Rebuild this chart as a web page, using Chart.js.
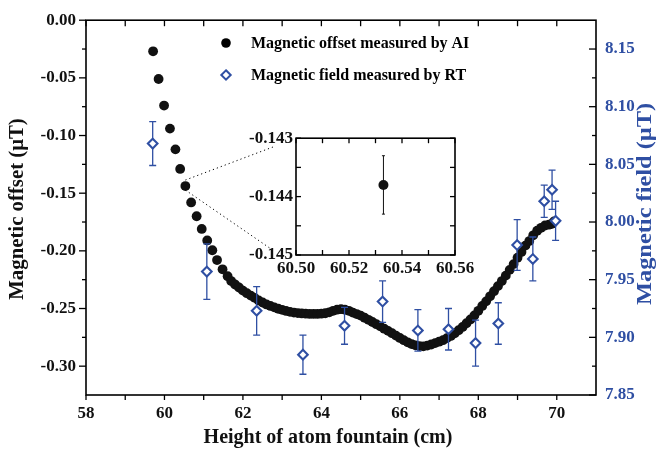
<!DOCTYPE html>
<html>
<head>
<meta charset="utf-8">
<script src="https://cdn.jsdelivr.net/npm/chart.js@4.4.0/dist/chart.umd.min.js"></script>
<style>
  html, body { margin: 0; padding: 0; background: #fff; }
  #wrap { position: relative; width: 661px; height: 454px; }
  #main { position: absolute; left: 0; top: 0; }
  #inset { position: absolute; left: 230px; top: 125px; }
</style>
</head>
<body>
<div id="wrap">
  <canvas id="main" width="661" height="454"></canvas>
  <canvas id="inset" width="260" height="155"></canvas>
</div>
<script>
// magnetic offset measured by the atom interferometer (left axis, uT)
const aiHeight = [59.71, 59.85, 59.99, 60.14, 60.28, 60.40, 60.533, 60.68, 60.82, 60.95,
  61.09, 61.22, 61.34, 61.48, 61.61, 61.70, 61.80, 61.90, 62.00, 62.10,
  62.20, 62.30, 62.40, 62.50, 62.60, 62.70, 62.80, 62.90, 63.00, 63.10,
  63.20, 63.30, 63.40, 63.50, 63.60, 63.70, 63.80, 63.90, 64.00, 64.10,
  64.20, 64.30, 64.40, 64.50, 64.60, 64.70, 64.80, 64.90, 65.00, 65.10,
  65.20, 65.30, 65.40, 65.50, 65.60, 65.70, 65.80, 65.90, 66.00, 66.10,
  66.20, 66.30, 66.40, 66.50, 66.60, 66.70, 66.80, 66.90, 67.00, 67.10,
  67.20, 67.30, 67.40, 67.50, 67.60, 67.70, 67.80, 67.90, 68.00, 68.10,
  68.20, 68.30, 68.40, 68.50, 68.60, 68.70, 68.80, 68.90, 69.00, 69.10,
  69.20, 69.30, 69.40, 69.50, 69.60, 69.70, 69.80, 69.88, 69.93];
const aiOffset = [-0.027, -0.051, -0.074, -0.094, -0.112, -0.129, -0.1438, -0.158, -0.170, -0.181,
  -0.191, -0.1995, -0.208, -0.216, -0.222, -0.2262, -0.2292, -0.2318, -0.2345, -0.2367,
  -0.2388, -0.2408, -0.2430, -0.2448, -0.2465, -0.2478, -0.2490, -0.2502, -0.2512, -0.2521,
  -0.2529, -0.2535, -0.2540, -0.2543, -0.2545, -0.2547, -0.2547, -0.2547, -0.2545, -0.2541,
  -0.2533, -0.2520, -0.2510, -0.2506, -0.2510, -0.2520, -0.2535, -0.2548, -0.2562, -0.2580,
  -0.2598, -0.2617, -0.2636, -0.2655, -0.2675, -0.2694, -0.2714, -0.2735, -0.2755, -0.2775,
  -0.2793, -0.2808, -0.2819, -0.2826, -0.2828, -0.2822, -0.2812, -0.2800, -0.2788, -0.2775,
  -0.2757, -0.2738, -0.2715, -0.2688, -0.2660, -0.2628, -0.2595, -0.2560, -0.2520, -0.2478,
  -0.2438, -0.2394, -0.2350, -0.2306, -0.2262, -0.2215, -0.2165, -0.2115, -0.2060, -0.2010,
  -0.1955, -0.1915, -0.1865, -0.1825, -0.1800, -0.1780, -0.1773, -0.1765, -0.1745];

// magnetic field measured by RT (right axis, uT) with error bars
const rtHeight = [59.70, 61.08, 62.35, 63.53, 64.59, 65.56, 66.46, 67.24, 67.93, 68.51, 68.99, 69.39, 69.68, 69.88, 69.97];
const rtField = [8.068, 7.957, 7.923, 7.885, 7.910, 7.931, 7.906, 7.907, 7.895, 7.912, 7.980, 7.968, 8.018, 8.028, 8.001];
const rtError = [0.019, 0.024, 0.021, 0.017, 0.016, 0.018, 0.018, 0.018, 0.020, 0.018, 0.022, 0.019, 0.014, 0.017, 0.017];

// zoomed point in the inset
const insetHeight = [60.533];
const insetOffset = [-0.1438];
const insetError = [0.0005];

// tick values
const xTicks = [58, 60, 62, 64, 66, 68, 70];
const xMinor = [59, 61, 63, 65, 67, 69];
const leftTicks = [0, -0.05, -0.10, -0.15, -0.20, -0.25, -0.30];
const leftMinor = [-0.025, -0.075, -0.125, -0.175, -0.225, -0.275];
const rightTicks = [7.85, 7.90, 7.95, 8.00, 8.05, 8.10, 8.15];
const rightMinor = [7.875, 7.925, 7.975, 8.025, 8.075, 8.125];
const insetXTicks = [60.50, 60.52, 60.54, 60.56];
const insetXMinor = [60.51, 60.53, 60.55];
const insetYTicks = [-0.143, -0.144, -0.145];
const insetYMinor = [-0.1435, -0.1445];

const blue = '#2F4FA3';
const serif = 'Liberation Serif, Times New Roman, serif';

function setTicks(values) {
  return function (scale) {
    scale.ticks = values.map(v => ({ value: v }));
  };
}

// frame box + tick marks (in = into the plot, out = away from it)
function framePlugin(marks) {
  return {
    id: 'frame',
    afterDraw(chart) {
      const ctx = chart.ctx;
      const a = chart.chartArea;
      ctx.save();
      ctx.strokeStyle = '#000';
      ctx.lineWidth = 1.6;
      ctx.strokeRect(a.left, a.top, a.right - a.left, a.bottom - a.top);
      ctx.lineWidth = 1.3;
      marks.forEach(m => {
        const s = chart.scales[m.axis];
        m.values.forEach(v => {
          const p = s.getPixelForValue(v);
          ctx.beginPath();
          if (m.side === 'left') { ctx.moveTo(a.left - m.out, p); ctx.lineTo(a.left + m.in, p); }
          if (m.side === 'right') { ctx.moveTo(a.right - m.in, p); ctx.lineTo(a.right + m.out, p); }
          if (m.side === 'bottom') { ctx.moveTo(p, a.bottom - m.in); ctx.lineTo(p, a.bottom + m.out); }
          if (m.side === 'top') { ctx.moveTo(p, a.top - m.out); ctx.lineTo(p, a.top + m.in); }
          ctx.stroke();
        });
      });
      ctx.restore();
    }
  };
}

function errorBarPlugin(dsIndex, yAxis, xs, ys, errs, color, width, cap) {
  return {
    id: 'errorBars',
    beforeDatasetDraw(chart, args) {
      if (args.index !== dsIndex) return;
      const ctx = chart.ctx;
      const sx = chart.scales.x, sy = chart.scales[yAxis];
      ctx.save();
      ctx.strokeStyle = color;
      ctx.lineWidth = width;
      xs.forEach((x, i) => {
        const px = sx.getPixelForValue(x);
        const top = sy.getPixelForValue(ys[i] + errs[i]);
        const bot = sy.getPixelForValue(ys[i] - errs[i]);
        ctx.beginPath();
        ctx.moveTo(px, top); ctx.lineTo(px, bot);
        ctx.moveTo(px - cap, top); ctx.lineTo(px + cap, top);
        ctx.moveTo(px - cap, bot); ctx.lineTo(px + cap, bot);
        ctx.stroke();
      });
      ctx.restore();
    }
  };
}

function rotatedText(ctx, text, x, y, color, stretch) {
  ctx.save();
  ctx.translate(x, y);
  ctx.rotate(-Math.PI / 2);
  ctx.scale(stretch, 1);
  ctx.fillStyle = color;
  ctx.textAlign = 'center';
  ctx.textBaseline = 'middle';
  ctx.fillText(text, 0, 0);
  ctx.restore();
}

// axis titles, legend inside the plot, dotted guide lines to the inset
const extrasPlugin = {
  id: 'extras',
  afterDraw(chart) {
    const ctx = chart.ctx;
    ctx.save();
    ctx.font = 'bold 20px ' + serif;
    rotatedText(ctx, 'Magnetic offset (\u03bcT)', 18, 209, '#111', 1.04);
    rotatedText(ctx, 'Magnetic field (\u03bcT)', 646, 204, blue, 1.22);
    ctx.fillStyle = '#111';
    ctx.textAlign = 'center';
    ctx.textBaseline = 'middle';
    ctx.fillText('Height of atom fountain (cm)', 328, 438);

    ctx.fillStyle = '#000';
    ctx.beginPath();
    ctx.arc(226, 43, 4.8, 0, Math.PI * 2);
    ctx.fill();
    ctx.strokeStyle = blue;
    ctx.fillStyle = '#fff';
    ctx.lineWidth = 2;
    ctx.beginPath();
    ctx.moveTo(226, 70.3); ctx.lineTo(230.7, 75); ctx.lineTo(226, 79.7); ctx.lineTo(221.3, 75);
    ctx.closePath();
    ctx.fill(); ctx.stroke();
    ctx.fillStyle = '#000';
    ctx.font = 'bold 16px ' + serif;
    ctx.textAlign = 'left';
    ctx.fillText('Magnetic offset measured by AI', 251, 44);
    ctx.fillText('Magnetic field measured by RT', 251, 76);

    const px = chart.scales.x.getPixelForValue(insetHeight[0]);
    const py = chart.scales.y.getPixelForValue(insetOffset[0]);
    ctx.strokeStyle = '#000';
    ctx.lineWidth = 1;
    ctx.setLineDash([1.2, 3]);
    ctx.beginPath();
    ctx.moveTo(px, py - 6); ctx.lineTo(273, 147);
    ctx.moveTo(px, py + 4); ctx.lineTo(274, 251);
    ctx.stroke();
    ctx.restore();
  }
};

const tickFont = { family: serif, size: 17, weight: 'bold' };

new Chart(document.getElementById('main'), {
  type: 'scatter',
  data: {
    datasets: [
      {
        label: 'Magnetic offset measured by AI',
        data: aiHeight.map((x, i) => ({ x: x, y: aiOffset[i] })),
        yAxisID: 'y',
        pointRadius: 4.9,
        pointBackgroundColor: '#111',
        pointBorderWidth: 0,
        order: 2
      },
      {
        label: 'Magnetic field measured by RT',
        data: rtHeight.map((x, i) => ({ x: x, y: rtField[i] })),
        yAxisID: 'y2',
        pointStyle: 'rectRot',
        pointRadius: 4.8,
        pointBackgroundColor: '#fff',
        pointBorderColor: blue,
        pointBorderWidth: 2.1,
        order: 1
      }
    ]
  },
  options: {
    responsive: false,
    animation: false,
    events: [],
    layout: { padding: { top: 16, left: 0, right: 0, bottom: 0 } },
    plugins: { legend: { display: false }, tooltip: { enabled: false } },
    scales: {
      x: {
        type: 'linear', min: 58, max: 71,
        afterBuildTicks: setTicks(xTicks),
        afterFit: s => { s.height = 59; },
        grid: { display: false, drawTicks: false },
        border: { display: false },
        ticks: { font: tickFont, color: '#111', padding: 8, autoSkip: false, maxRotation: 0, callback: v => String(v) }
      },
      y: {
        type: 'linear', position: 'left', min: -0.325, max: 0,
        afterBuildTicks: setTicks(leftTicks),
        afterFit: s => { s.width = 86; },
        grid: { display: false, drawTicks: false },
        border: { display: false },
        ticks: { font: tickFont, color: '#111', padding: 10, autoSkip: false, callback: v => v.toFixed(2) }
      },
      y2: {
        type: 'linear', position: 'right', min: 7.85, max: 8.175,
        afterBuildTicks: setTicks(rightTicks),
        afterFit: s => { s.width = 65; },
        grid: { display: false, drawTicks: false },
        border: { display: false },
        ticks: { font: tickFont, color: blue, padding: 9, autoSkip: false, callback: v => v.toFixed(2) }
      }
    }
  },
  plugins: [
    framePlugin([
      { axis: 'y', values: leftTicks, side: 'left', out: 7, in: 0 },
      { axis: 'y', values: leftMinor, side: 'left', out: 4, in: 0 },
      { axis: 'y2', values: rightTicks, side: 'right', out: 0, in: 7 },
      { axis: 'y2', values: rightMinor, side: 'right', out: 0, in: 4 },
      { axis: 'x', values: xTicks.concat(xMinor), side: 'bottom', out: 5, in: 0 },
      { axis: 'x', values: xTicks.concat(xMinor), side: 'top', out: 0, in: 6 }
    ]),
    errorBarPlugin(1, 'y2', rtHeight, rtField, rtError, blue, 1.3, 3.5),
    extrasPlugin
  ]
});

new Chart(document.getElementById('inset'), {
  type: 'scatter',
  data: {
    datasets: [{
      label: 'inset',
      data: insetHeight.map((x, i) => ({ x: x, y: insetOffset[i] })),
      pointRadius: 5,
      pointBackgroundColor: '#111',
      pointBorderWidth: 0
    }]
  },
  options: {
    responsive: false,
    animation: false,
    events: [],
    layout: { padding: { top: 13, right: 35, left: 0, bottom: 0 } },
    plugins: { legend: { display: false }, tooltip: { enabled: false } },
    scales: {
      x: {
        type: 'linear', min: 60.50, max: 60.56,
        afterBuildTicks: setTicks(insetXTicks),
        afterFit: s => { s.height = 25; },
        grid: { display: false, drawTicks: false },
        border: { display: false },
        ticks: { font: tickFont, color: '#111', padding: 3, autoSkip: false, maxRotation: 0, callback: v => v.toFixed(2) }
      },
      y: {
        type: 'linear', min: -0.145, max: -0.143,
        afterBuildTicks: setTicks(insetYTicks),
        afterFit: s => { s.width = 66; },
        grid: { display: false, drawTicks: false },
        border: { display: false },
        ticks: { font: tickFont, color: '#111', padding: 3, autoSkip: false, callback: v => v.toFixed(3) }
      }
    }
  },
  plugins: [
    framePlugin([
      { axis: 'y', values: insetYTicks.concat(insetYMinor), side: 'left', out: 0, in: 5 },
      { axis: 'y', values: insetYTicks.concat(insetYMinor), side: 'right', out: 0, in: 5 },
      { axis: 'x', values: insetXTicks.concat(insetXMinor), side: 'bottom', out: 0, in: 5 },
      { axis: 'x', values: insetXTicks.concat(insetXMinor), side: 'top', out: 0, in: 5 }
    ]),
    errorBarPlugin(0, 'y', insetHeight, insetOffset, insetError, '#111', 1, 1.5)
  ]
});
</script>
</body>
</html>
